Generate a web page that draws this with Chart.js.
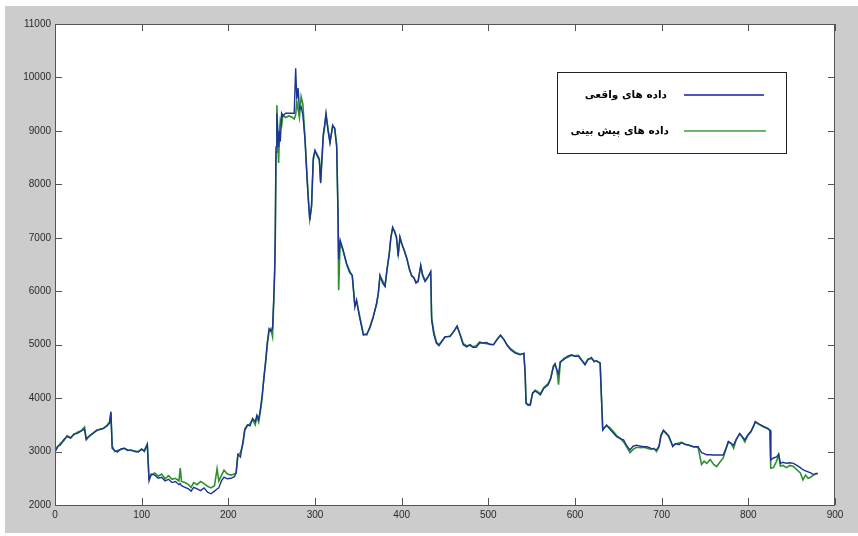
<!DOCTYPE html>
<html>
<head>
<meta charset="utf-8">
<script src="https://cdn.jsdelivr.net/npm/chart.js@4/dist/chart.umd.min.js"></script>
<style>
  html, body { margin: 0; padding: 0; background: #ffffff; }
  #grafico { display: block; }
</style>
</head>
<body>
<canvas id="grafico" width="858" height="536"></canvas>
<script>
// Dados (eixo X = dia, Y = valor)
const dias = [
  0, 3, 6, 10, 14, 18, 22, 26, 30, 34, 36, 40, 44, 48, 52, 56, 60, 63, 64.5, 66,
  69, 72, 76, 80, 84, 88, 92, 96, 100, 103, 106.5, 108.5, 111, 115, 119, 123, 127, 131, 135, 139,
  143, 144.5, 146, 150, 154, 157, 160, 164, 168, 172, 176, 180, 184, 187, 189, 192, 195, 199, 203, 207,
  209, 211, 214, 217, 219, 222, 225, 228, 231, 233, 235, 237, 239, 241, 243, 245, 247, 249, 251, 252.5,
  253.5, 254.2, 255, 256, 257, 258, 259, 260, 261.5, 263, 266, 270, 274, 276, 277.7, 279, 280.5, 282, 284, 286,
  288.5, 290.5, 292.3, 294, 296, 298, 300, 302, 305, 306.5, 308, 309.6, 311, 312.7, 315, 317.3, 320.4, 322.7, 325, 326.5,
  327.3, 329, 332, 336.5, 340, 343, 346, 348, 351, 355.8, 359.7, 363, 367, 371, 373, 375, 378, 380.8, 383, 385.7,
  387.5, 389.6, 392, 394, 396, 398, 400, 402.7, 406, 409, 411.5, 414, 416.5, 419, 422, 424, 427, 430, 433.5, 434.6,
  437, 440, 443, 446, 450, 455.8, 460, 464, 468, 471, 475, 479, 482, 486, 490, 494, 498, 502, 506, 510,
  514, 518, 522, 526, 531, 536.5, 541, 542.5, 543.5, 546, 548.5, 551, 554, 557, 560, 564, 569, 572, 575, 577,
  579, 581, 583, 587, 591, 596, 600, 604, 608, 611.5, 615, 619, 622, 625, 629, 630.5, 632, 636.5, 640, 644,
  648, 652, 656, 660, 663.5, 667, 671, 676, 680, 683, 688, 691, 694, 697, 699, 702, 705, 708, 710.5, 712.7,
  716, 720, 723, 727, 731, 736.5, 742, 746, 749, 752, 756, 760, 763.5, 767, 771, 774, 777, 780, 783, 786,
  790, 793, 796, 799, 803, 806, 808, 812, 817.6, 822, 825, 825.8, 829, 832.6, 835, 837, 840, 844, 848, 852,
  856, 860, 863, 866, 869, 872, 875, 878, 880
];

const valoresReais = [
  3000, 3100, 3120, 3220, 3280, 3250, 3330, 3340, 3380, 3420, 3220, 3300, 3340, 3400, 3410, 3440, 3480, 3530, 3750, 3060,
  3020, 2990, 3050, 3060, 3020, 3030, 3000, 2990, 3050, 3000, 3130, 2450, 2580, 2560, 2500, 2520, 2450, 2480, 2420, 2440,
  2380, 2400, 2360, 2330, 2300, 2260, 2330, 2300, 2270, 2320, 2240, 2210, 2260, 2300, 2320, 2450, 2520, 2490, 2500, 2530,
  2600, 2950, 2900, 3200, 3420, 3500, 3480, 3620, 3560, 3680, 3600, 3800, 4050, 4350, 4700, 5050, 5300, 5250, 5300, 5900,
  6400, 7100, 8700, 9330, 9000, 8700, 9000, 8800, 9330, 9280, 9330, 9330, 9330, 9330, 10170, 9600, 9800, 9400, 9450, 9300,
  8830, 8200, 7700, 7330, 7600, 8500, 8640, 8550, 8450, 8020, 8500, 8950, 9100, 9330, 9000, 8770, 9110, 9050, 8700, 7500,
  6600, 6960, 6800, 6500, 6350, 6300, 5700, 5840, 5550, 5180, 5200, 5300, 5500, 5770, 5960, 6300, 6150, 6090, 6400, 6710,
  7000, 7200, 7100, 7020, 6650, 7020, 6900, 6770, 6600, 6400, 6300, 6250, 6150, 6180, 6490, 6300, 6180, 6250, 6370, 5460,
  5200, 5030, 4980, 5050, 5150, 5150, 5250, 5350, 5150, 5000, 4960, 5000, 4950, 4950, 5030, 5030, 5040, 5000, 5000, 5100,
  5180, 5100, 4980, 4900, 4840, 4810, 4840, 4450, 3900, 3880, 3870, 4100, 4130, 4100, 4060, 4180, 4250, 4360, 4600, 4650,
  4520, 4450, 4680, 4720, 4780, 4810, 4780, 4780, 4700, 4620, 4720, 4760, 4680, 4700, 4650, 4000, 3400, 3500, 3420, 3350,
  3280, 3240, 3220, 3100, 3030, 3100, 3120, 3100, 3090, 3090, 3060, 3050, 3030, 3100, 3300, 3400, 3350, 3300, 3200, 3090,
  3150, 3130, 3170, 3140, 3120, 3090, 3090, 2980, 2960, 2940, 2940, 2935, 2935, 2935, 2935, 3050, 3190, 3150, 3120, 3230,
  3340, 3280, 3220, 3300, 3380, 3480, 3560, 3520, 3470, 3440, 3400, 2840, 2880, 2900, 2950, 2780, 2800, 2780, 2790, 2780,
  2740, 2700, 2660, 2640, 2620, 2600, 2570, 2590, 2590
];

const valoresPrevistos = [
  3000, 3080, 3150, 3200, 3300, 3260, 3320, 3360, 3390, 3460, 3250, 3290, 3350, 3390, 3420, 3430, 3490, 3560, 3720, 3100,
  3000, 3020, 3040, 3060, 3030, 3020, 3010, 3000, 3040, 3020, 3140, 2500, 2560, 2600, 2540, 2580, 2490, 2550, 2480, 2500,
  2450, 2690, 2440, 2420, 2380, 2330, 2420, 2380, 2440, 2400, 2350, 2320, 2360, 2680, 2450, 2550, 2650, 2580, 2560, 2580,
  2600, 2930, 2980, 3150, 3400, 3480, 3520, 3600, 3500, 3650, 3550, 3750, 4000, 4400, 4650, 5000, 5250, 5300, 5150, 5850,
  6400, 7000, 8600, 9480, 8900, 8400, 8950, 9200, 9100, 9300, 9250, 9280, 9250, 9220, 9300, 9550, 9400, 9250, 9640, 9500,
  8850, 8250, 7750, 7350, 7580, 8450, 8620, 8580, 8480, 8050, 8450, 8900, 9050, 9300, 9050, 8800, 9080, 9050, 8750, 7500,
  6020, 6900, 6780, 6520, 6380, 6280, 5750, 5800, 5580, 5200, 5180, 5320, 5520, 5750, 5950, 6280, 6200, 6100, 6380, 6700,
  7000, 7180, 7120, 7000, 6700, 7000, 6880, 6780, 6620, 6420, 6280, 6260, 6170, 6200, 6470, 6320, 6200, 6260, 6350, 5500,
  5250, 5050, 5000, 5060, 5140, 5160, 5240, 5340, 5170, 5020, 4980, 4990, 4960, 4980, 5050, 5030, 5020, 5010, 5000, 5090,
  5170, 5090, 4990, 4920, 4860, 4820, 4830, 4460, 3920, 3860, 3900, 4080, 4150, 4120, 4080, 4200, 4270, 4380, 4580, 4620,
  4540, 4250, 4660, 4740, 4760, 4800, 4790, 4800, 4710, 4640, 4730, 4740, 4700, 4690, 4660, 4050, 3420, 3480, 3450, 3380,
  3300, 3250, 3180, 3080, 2980, 3040, 3080, 3070, 3080, 3060, 3040, 3060, 3000, 3090, 3280, 3390, 3340, 3280, 3190, 3110,
  3140, 3160, 3170, 3130, 3120, 3090, 3080, 2760, 2820, 2780, 2850, 2760, 2720, 2800, 2880, 3040, 3180, 3160, 3060, 3220,
  3330, 3270, 3180, 3290, 3370, 3470, 3550, 3510, 3460, 3430, 3390, 2690, 2700, 2820, 2940, 2730, 2740, 2700, 2740, 2720,
  2660, 2600, 2470, 2560, 2500, 2520, 2560, 2580, 2590
];

const ticksY = [2000, 3000, 4000, 5000, 6000, 7000, 8000, 9000, 10000, 11000];
const ticksX = [0, 100, 200, 300, 400, 500, 600, 700, 800, 900];
const rotulosLegenda = ['داده های واقعی', 'داده های پیش بینی'];
const coresSeries = ['#1c3494', '#2e8f2e'];
const coresLegenda = ['#1a1aa8', '#3c9c3c'];

// Fundo cinza estilo MATLAB, moldura, ticks para dentro e legenda com caixa
const pluginMoldura = {
  id: 'moldura',
  beforeDraw(chart) {
    const { ctx, chartArea: a, width, height } = chart;
    ctx.save();
    ctx.fillStyle = '#ffffff';
    ctx.fillRect(0, 0, width, height);
    ctx.fillStyle = '#cccccc';
    ctx.fillRect(5, 6, width - 5, height - 9);
    ctx.fillStyle = '#ffffff';
    ctx.fillRect(a.left, a.top, a.right - a.left, a.bottom - a.top);
    ctx.restore();
  },
  afterDraw(chart) {
    const { ctx, chartArea: a } = chart;
    const sx = chart.scales.x, sy = chart.scales.y;
    ctx.save();
    ctx.strokeStyle = '#555555';
    ctx.lineWidth = 1;
    ctx.strokeRect(a.left + 0.5, a.top + 0.5, a.right - a.left - 1, a.bottom - a.top);
    ctx.beginPath();
    ticksX.forEach(v => {
      const px = Math.round(sx.getPixelForValue(v)) + 0.5;
      ctx.moveTo(px, a.bottom); ctx.lineTo(px, a.bottom - 7);
      ctx.moveTo(px, a.top); ctx.lineTo(px, a.top + 7);
    });
    ticksY.forEach(v => {
      const py = Math.round(sy.getPixelForValue(v)) + 0.5;
      ctx.moveTo(a.left, py); ctx.lineTo(a.left + 7, py);
      ctx.moveTo(a.right, py); ctx.lineTo(a.right - 7, py);
    });
    ctx.stroke();

    // legenda
    const bx = a.right - 278, by = a.top + 48, bw = 229, bh = 81;
    ctx.fillStyle = '#ffffff';
    ctx.fillRect(bx, by, bw, bh);
    ctx.strokeStyle = '#222222';
    ctx.strokeRect(bx + 0.5, by + 0.5, bw, bh);
    ctx.font = 'bold 10.5px "DejaVu Sans", sans-serif';
    ctx.textAlign = 'right';
    ctx.textBaseline = 'middle';
    rotulosLegenda.forEach((txt, i) => {
      const ly = by + 23 + i * 36;
      ctx.fillStyle = '#000000';
      ctx.fillText(txt, bx + 110 + i * 2, ly);
      ctx.strokeStyle = coresLegenda[i];
      ctx.lineWidth = 1.5;
      ctx.beginPath();
      ctx.moveTo(bx + 127, ly);
      ctx.lineTo(bx + 207 + i * 2, ly);
      ctx.stroke();
    });
    ctx.restore();
  }
};

const ctx = document.getElementById('grafico').getContext('2d');
new Chart(ctx, {
  type: 'line',
  data: {
    datasets: [
      {
        label: rotulosLegenda[0],
        data: dias.map((d, i) => ({ x: d, y: valoresReais[i] })),
        borderColor: coresSeries[0],
        borderWidth: 1.4,
        pointRadius: 0,
        tension: 0,
        order: 0
      },
      {
        label: rotulosLegenda[1],
        data: dias.map((d, i) => ({ x: d, y: valoresPrevistos[i] })),
        borderColor: coresSeries[1],
        borderWidth: 1.6,
        pointRadius: 0,
        tension: 0,
        order: 1
      }
    ]
  },
  options: {
    responsive: false,
    animation: false,
    layout: { padding: { left: 0, top: 24, right: 23, bottom: 0 } },
    plugins: {
      legend: { display: false },
      tooltip: { enabled: false }
    },
    scales: {
      x: {
        type: 'linear',
        min: 0,
        max: 900,
        afterFit: s => { s.height = 31; },
        afterBuildTicks: s => { s.ticks = ticksX.map(v => ({ value: v })); },
        grid: { display: false, drawTicks: false },
        border: { display: false },
        ticks: {
          color: '#2a2a2a',
          padding: 4,
          maxRotation: 0,
          callback: v => String(v),
          font: { family: 'Arial, "Liberation Sans", sans-serif', size: 10 }
        }
      },
      y: {
        type: 'linear',
        min: 2000,
        max: 11000,
        afterFit: s => { s.width = 55; },
        afterBuildTicks: s => { s.ticks = ticksY.map(v => ({ value: v })); },
        grid: { display: false, drawTicks: false },
        border: { display: false },
        ticks: {
          color: '#2a2a2a',
          padding: 4,
          callback: v => String(v),
          font: { family: 'Arial, "Liberation Sans", sans-serif', size: 10 }
        }
      }
    }
  },
  plugins: [pluginMoldura]
});
</script>
</body>
</html>
